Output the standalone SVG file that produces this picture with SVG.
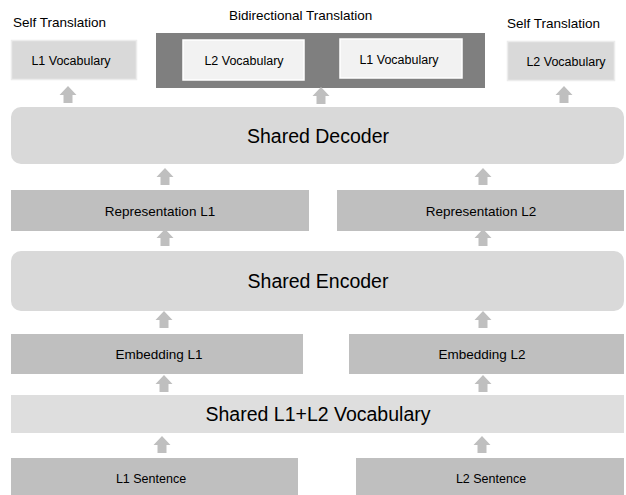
<svg xmlns="http://www.w3.org/2000/svg" width="626" height="495" viewBox="0 0 626 495">
<style>
  text { font-family: "Liberation Sans", Arial, sans-serif; fill: #000; text-anchor: middle; }
  .title { font-size: 13.5px; text-anchor: start; }
  .small { font-size: 12.5px; }
  .mid { font-size: 13.5px; }
  .big { font-size: 19.5px; }
  .dark { fill: #bfbfbf; }
  .light { fill: #d9d9d9; }
  .lighter { fill: #dedede; }
  .selfbox { fill: #d9d9d9; stroke: #ececec; stroke-width: 1.5; }
  .inner { fill: #f2f2f2; stroke: #ffffff; stroke-width: 1.5; }
  .arrow { fill: #bfbfbf; }
</style>
<defs>
  <path id="up" d="M0,-9 L8.5,0 L4.5,0 L4.5,8 L-4.5,8 L-4.5,0 L-8.5,0 Z"/>
</defs>

<text class="title" x="13" y="27">Self Translation</text>
<text class="title" x="229" y="20">Bidirectional Translation</text>
<text class="title" x="507" y="28">Self Translation</text>

<g id="self-l1-vocab">
  <rect class="selfbox" x="11.5" y="40.5" width="125" height="39"/>
  <text class="small" x="71" y="65">L1 Vocabulary</text>
</g>
<g id="bidirectional">
  <rect x="156" y="33" width="329" height="55" fill="#7f7f7f"/>
  <g id="bi-l2-vocab">
    <rect class="inner" x="183" y="40" width="121" height="40"/>
    <text class="small" x="244" y="65">L2 Vocabulary</text>
  </g>
  <g id="bi-l1-vocab">
    <rect class="inner" x="340" y="39" width="122" height="39"/>
    <text class="small" x="399" y="64">L1 Vocabulary</text>
  </g>
</g>
<g id="self-l2-vocab">
  <rect class="selfbox" x="507.5" y="41.5" width="107" height="39"/>
  <text class="small" x="566" y="66">L2 Vocabulary</text>
</g>

<g id="decoder">
  <rect class="light" x="11" y="107" width="613" height="57" rx="10"/>
  <text class="big" x="318" y="143">Shared Decoder</text>
</g>
<g id="rep-l1">
  <rect class="dark" x="11" y="190" width="298" height="41"/>
  <text class="mid" x="160" y="216">Representation L1</text>
</g>
<g id="rep-l2">
  <rect class="dark" x="337" y="190" width="287" height="41"/>
  <text class="mid" x="481" y="216">Representation L2</text>
</g>
<g id="encoder">
  <rect class="light" x="11" y="251" width="613" height="60" rx="10"/>
  <text class="big" x="318" y="288">Shared Encoder</text>
</g>
<g id="emb-l1">
  <rect class="dark" x="11" y="334" width="292" height="40"/>
  <text class="mid" x="159" y="359">Embedding L1</text>
</g>
<g id="emb-l2">
  <rect class="dark" x="349" y="334" width="275" height="40"/>
  <text class="mid" x="482" y="359">Embedding L2</text>
</g>
<g id="shared-vocab">
  <rect class="lighter" x="11" y="395" width="613" height="38"/>
  <text class="big" x="318" y="421">Shared L1+L2 Vocabulary</text>
</g>
<g id="l1-sentence">
  <rect class="dark" x="11" y="458" width="287" height="37"/>
  <text class="small" x="151" y="483">L1 Sentence</text>
</g>
<g id="l2-sentence">
  <rect class="dark" x="356" y="458" width="268" height="37"/>
  <text class="small" x="491" y="483">L2 Sentence</text>
</g>

<g id="connectors" class="arrow">
  <use href="#up" x="68" y="95"/>
  <use href="#up" x="321" y="96"/>
  <use href="#up" x="564" y="95"/>
  <use href="#up" x="165" y="177"/>
  <use href="#up" x="483" y="177"/>
  <use href="#up" x="165" y="238"/>
  <use href="#up" x="483" y="238"/>
  <use href="#up" x="164" y="320"/>
  <use href="#up" x="483" y="320"/>
  <use href="#up" x="164" y="384"/>
  <use href="#up" x="483" y="384"/>
  <use href="#up" x="162" y="445"/>
  <use href="#up" x="482" y="445"/>
</g>
</svg>
